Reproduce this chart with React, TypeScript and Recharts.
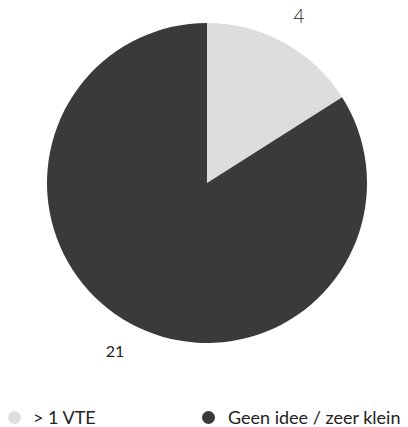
import React from 'react';
import { PieChart, Pie, Cell, Legend } from 'recharts';

const categories = ['> 1 VTE', 'Geen idee / zeer klein'];
const values = [4, 21];
const colors = ['#dddddd', '#3a3a3a'];

const data = categories.map((name, i) => ({ name, value: values[i] }));

const RADIAN = Math.PI / 180;

const renderLabel = (props: any) => {
  const { cx, cy, midAngle, outerRadius, value, index } = props;
  const r = outerRadius + 31;
  const x = cx + r * Math.cos(-midAngle * RADIAN);
  const y = cy + r * Math.sin(-midAngle * RADIAN);
  const first = index === 0;
  return (
    <text
      x={x}
      y={y}
      textAnchor="middle"
      dominantBaseline="central"
      fill="#222"
      fontSize={first ? 19 : 16}
      fontWeight={first ? 300 : 400}
      fontFamily="Lato, sans-serif"
    >
      {value}
    </text>
  );
};

const renderLegend = () => (
  <div style={{ position: 'relative', width: 408, height: 24, fontFamily: 'Lato, sans-serif' }}>
    {categories.map((c, i) => (
      <div
        key={c}
        style={{
          position: 'absolute',
          left: i === 0 ? 7.5 : 201.5,
          top: 0,
          display: 'flex',
          alignItems: 'center',
          height: 24,
        }}
      >
        <span
          style={{
            display: 'inline-block',
            width: 13,
            height: 13,
            borderRadius: '50%',
            background: colors[i],
            marginRight: i === 0 ? 12.5 : 13.5,
            flexShrink: 0,
          }}
        />
        <span style={{ fontSize: 18, color: '#222', whiteSpace: 'nowrap', lineHeight: '24px' }}>{c}</span>
      </div>
    ))}
  </div>
);

export default function App() {
  return (
    <div style={{ position: 'absolute', left: 0, top: 0, background: '#fff' }}>
      <PieChart width={408} height={427} margin={{ top: 0, right: 0, bottom: 0, left: 0 }}>
        <Pie
          data={data}
          dataKey="value"
          nameKey="name"
          cx={207}
          cy={183}
          outerRadius={160}
          startAngle={90}
          endAngle={-270}
          stroke="none"
          label={renderLabel}
          labelLine={false}
          isAnimationActive={false}
        >
          {data.map((d, i) => (
            <Cell key={d.name} fill={colors[i]} />
          ))}
        </Pie>
        <Legend content={renderLegend} wrapperStyle={{ left: 0, top: 405, width: 408 }} />
      </PieChart>
    </div>
  );
}
